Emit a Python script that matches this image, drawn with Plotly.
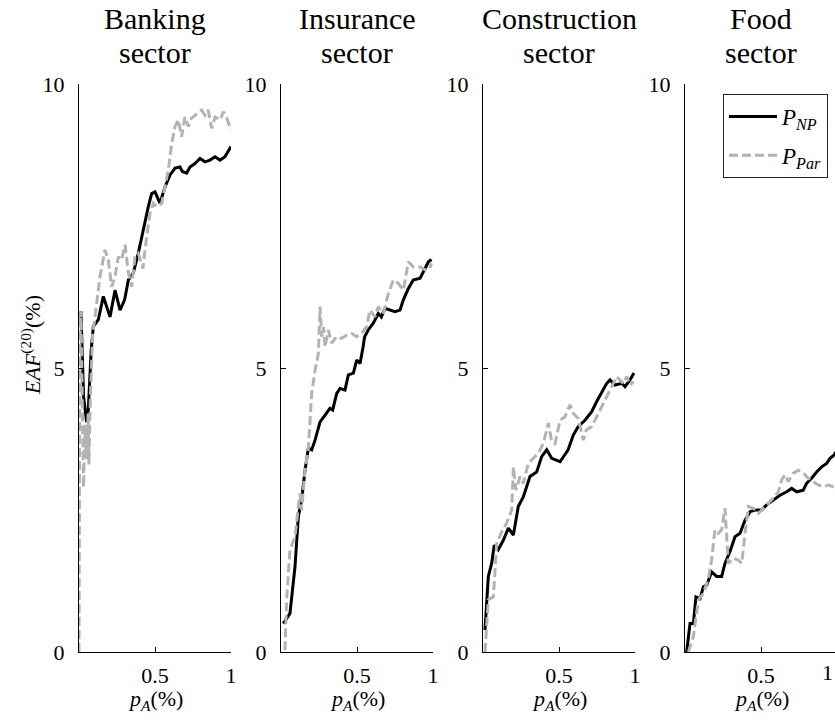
import plotly.graph_objects as go

W, H = 835, 724

sectors = ["Banking", "Insurance", "Construction", "Food"]

# ---- Banking sector ----
bank_np_x = [0.013, 0.02, 0.03, 0.05, 0.06, 0.08, 0.094, 0.127, 0.16, 0.204, 0.237, 0.27, 0.30, 0.325, 0.357,
             0.39, 0.412, 0.434, 0.456, 0.478, 0.50, 0.533, 0.566, 0.599, 0.632, 0.664, 0.68, 0.708, 0.73,
             0.763, 0.796, 0.829, 0.862, 0.895, 0.928, 0.96, 0.993, 1.0]
bank_np_y = [6.0, 5.2, 4.5, 4.05, 4.2, 5.3, 5.73, 5.85, 6.26, 5.90, 6.37, 6.02, 6.2, 6.55, 6.67,
             7.02, 7.31, 7.55, 7.84, 8.07, 8.10, 7.90, 8.19, 8.40, 8.52, 8.54, 8.46, 8.43, 8.54,
             8.60, 8.69, 8.63, 8.66, 8.72, 8.66, 8.72, 8.87, 8.90]
bank_par_x = [0.0, 0.003, 0.006, 0.013, 0.02, 0.03, 0.04, 0.05, 0.06, 0.065, 0.075, 0.09, 0.1, 0.138, 0.171,
              0.193, 0.215, 0.237, 0.259, 0.28, 0.303, 0.325, 0.347, 0.368, 0.39, 0.412, 0.42, 0.445,
              0.467, 0.489, 0.51, 0.544, 0.566, 0.588, 0.61, 0.632, 0.653, 0.675, 0.697, 0.72, 0.74,
              0.774, 0.807, 0.829, 0.85, 0.873, 0.895, 0.928, 0.95, 0.97, 1.0]
bank_par_y = [0.0, 3.0, 5.5, 6.0, 4.8, 2.9, 4.0, 3.4, 4.2, 3.3, 4.5, 5.6, 5.79, 6.61, 7.08,
              6.90, 6.43, 6.61, 6.96, 6.90, 7.17, 6.67, 6.43, 6.96, 7.02, 6.84, 6.75, 7.31,
              7.72, 7.90, 7.84, 7.90, 8.19, 8.49, 8.96, 9.25, 9.37, 9.07, 9.42, 9.25, 9.40,
              9.48, 9.54, 9.45, 9.54, 9.22, 9.42, 9.37, 9.51, 9.42, 9.19]

# ---- Insurance sector ----
ins_np_x = [0.015, 0.059, 0.092, 0.114, 0.136, 0.158, 0.18, 0.202, 0.224, 0.257, 0.29, 0.322, 0.34, 0.366,
            0.388, 0.421, 0.443, 0.476, 0.498, 0.52, 0.54, 0.55, 0.574, 0.607, 0.64, 0.66, 0.684, 0.717,
            0.75, 0.783, 0.805, 0.838, 0.87, 0.915, 0.947, 0.97, 0.99]
ins_np_y = [0.50, 0.68, 1.50, 2.38, 2.68, 3.20, 3.59, 3.56, 3.73, 4.05, 4.17, 4.29, 4.26, 4.55,
            4.64, 4.61, 4.88, 4.91, 5.14, 5.08, 5.37, 5.55, 5.67, 5.79, 5.96, 5.90, 6.05, 6.02,
            5.99, 6.02, 6.20, 6.40, 6.55, 6.58, 6.75, 6.87, 6.91]
ins_par_x = [0.026, 0.037, 0.059, 0.092, 0.114, 0.125, 0.136, 0.158, 0.18, 0.202, 0.224, 0.246, 0.257, 0.268,
             0.28, 0.29, 0.311, 0.333, 0.366, 0.399, 0.432, 0.465, 0.497, 0.53, 0.564, 0.585, 0.618, 0.64,
             0.673, 0.706, 0.739, 0.772, 0.805, 0.838, 0.87, 0.915, 0.947, 0.975, 0.99]
ins_par_y = [0.03, 0.92, 1.80, 2.03, 2.56, 2.79, 2.50, 3.20, 3.60, 4.55, 4.96, 5.26, 6.08, 5.55,
             5.72, 5.37, 5.67, 5.44, 5.55, 5.52, 5.58, 5.61, 5.55, 5.61, 5.73, 6.02, 5.90, 6.08,
             5.96, 6.31, 6.55, 6.49, 6.37, 6.87, 6.78, 6.78, 6.73, 6.74, 6.84]

# ---- Construction sector ----
con_np_x = [0.013, 0.035, 0.057, 0.074, 0.1, 0.134, 0.167, 0.2, 0.232, 0.265, 0.287, 0.309, 0.353, 0.386,
            0.419, 0.452, 0.507, 0.539, 0.56, 0.594, 0.627, 0.671, 0.715, 0.748, 0.781, 0.814, 0.836,
            0.868, 0.913, 0.934, 0.967, 0.993]
con_np_y = [0.39, 1.33, 1.56, 1.88, 1.80, 1.97, 2.18, 2.06, 2.56, 2.73, 2.91, 3.09, 3.17, 3.44,
            3.56, 3.41, 3.35, 3.47, 3.56, 3.82, 3.97, 4.08, 4.23, 4.41, 4.58, 4.73, 4.79,
            4.70, 4.73, 4.67, 4.79, 4.91]
con_par_x = [0.013, 0.035, 0.068, 0.09, 0.123, 0.156, 0.189, 0.2, 0.217, 0.243, 0.265, 0.298, 0.331, 0.364,
             0.397, 0.43, 0.452, 0.474, 0.507, 0.539, 0.572, 0.594, 0.627, 0.66, 0.68, 0.715, 0.748,
             0.781, 0.814, 0.847, 0.88, 0.9, 0.924, 0.945, 0.967, 0.99]
con_par_y = [0.0, 0.92, 0.97, 1.91, 2.12, 2.27, 2.50, 3.26, 2.85, 3.09, 2.97, 3.32, 3.41, 3.50,
             3.67, 4.03, 3.70, 3.67, 4.08, 4.14, 4.35, 4.20, 4.11, 3.73, 3.91, 3.97, 4.14,
             4.32, 4.49, 4.67, 4.85, 4.79, 4.73, 4.85, 4.70, 4.76]

# ---- Food sector ----
food_np_x = [0.011, 0.033, 0.055, 0.072, 0.099, 0.121, 0.143, 0.175, 0.208, 0.241, 0.263, 0.296, 0.329,
             0.362, 0.395, 0.428, 0.461, 0.505, 0.537, 0.581, 0.625, 0.669, 0.702, 0.735, 0.778, 0.8,
             0.833, 0.866, 0.899, 0.932, 0.954, 0.982, 1.0]
food_np_y = [0.0, 0.50, 0.50, 0.97, 0.94, 1.15, 1.18, 1.41, 1.33, 1.33, 1.56, 1.77, 2.03,
             2.09, 2.32, 2.47, 2.50, 2.50, 2.59, 2.68, 2.76, 2.82, 2.88, 2.82, 2.85, 2.97,
             3.06, 3.17, 3.26, 3.32, 3.41, 3.47, 3.55]
food_par_x = [0.022, 0.055, 0.088, 0.121, 0.154, 0.175, 0.197, 0.219, 0.241, 0.263, 0.285, 0.318, 0.351,
              0.373, 0.395, 0.417, 0.45, 0.483, 0.515, 0.548, 0.581, 0.614, 0.636, 0.658, 0.68, 0.713,
              0.746, 0.778, 0.811, 0.844, 0.877, 0.91, 0.943, 0.976, 1.0]
food_par_y = [0.0, 0.27, 0.92, 1.03, 1.30, 1.62, 2.15, 2.09, 2.15, 2.53, 1.56, 1.65, 1.62,
              1.56, 2.09, 2.56, 2.53, 2.44, 2.53, 2.62, 2.71, 2.82, 3.03, 3.12, 3.00, 3.15,
              3.20, 3.15, 3.06, 3.00, 2.94, 2.91, 2.94, 2.91, 2.90]

np_x = [bank_np_x, ins_np_x, con_np_x, food_np_x]
np_y = [bank_np_y, ins_np_y, con_np_y, food_np_y]
par_x = [bank_par_x, ins_par_x, con_par_x, food_par_x]
par_y = [bank_par_y, ins_par_y, con_par_y, food_par_y]

y_ticks = [0, 5, 10]
x_ticks = [0.5, 1]
x_tick_text = ["0.5", "1"]

FONT = "Liberation Serif"
BLACK = "#000000"
GRAY = "#b3b3b3"

# pixel geometry of the axes
left_px = [79, 281, 483, 685]
width_px = 152
top_px, bottom_px = 84, 652

fig = go.Figure()

for i in range(4):
    sfx = "" if i == 0 else str(i + 1)
    fig.add_trace(go.Scatter(x=np_x[i], y=np_y[i], mode="lines",
                             line=dict(color=BLACK, width=3),
                             name="<i>P</i><sub><i>NP</i></sub>",
                             legendgroup="np", showlegend=(i == 0),
                             xaxis="x" + sfx, yaxis="y" + sfx))
    fig.add_trace(go.Scatter(x=par_x[i], y=par_y[i], mode="lines",
                             line=dict(color=GRAY, width=3, dash="9px,4px"),
                             name="<i>P</i><sub><i>Par</i></sub>",
                             legendgroup="par", showlegend=(i == 0),
                             xaxis="x" + sfx, yaxis="y" + sfx))

layout = dict(
    template="none",
    width=W, height=H,
    margin=dict(l=0, r=0, t=0, b=0, autoexpand=False),
    paper_bgcolor="white", plot_bgcolor="white",
    font=dict(family=FONT, size=21, color="black"),
    showlegend=True,
    legend=dict(x=723 / W, y=1 - 94 / H, xanchor="left", yanchor="top",
                bordercolor="#222222", borderwidth=1, bgcolor="white",
                itemwidth=48,
                font=dict(family=FONT, size=23), tracegroupgap=6),
)

annotations = []
for i in range(4):
    sfx = "" if i == 0 else str(i + 1)
    x0 = left_px[i] / W
    x1 = min((left_px[i] + width_px) / W, 1.0)
    xr_end = (W - left_px[i]) / width_px if left_px[i] + width_px > W else 1.0
    layout["xaxis" + sfx] = dict(
        domain=[x0, x1], range=[0, xr_end], anchor="y" + sfx, automargin=False,
        showline=True, linecolor="black", linewidth=1,
        ticks="inside", ticklen=5, tickcolor="black", tickwidth=1,
        tickvals=x_ticks, ticktext=x_tick_text, showgrid=False, zeroline=False,
        tickfont=dict(family=FONT, size=22), ticklabelstandoff=4,
    )
    layout["yaxis" + sfx] = dict(
        domain=[1 - bottom_px / H, 1 - top_px / H], range=[0, 10], anchor="x" + sfx,
        automargin=False,
        showline=True, linecolor="black", linewidth=1,
        ticks="inside", ticklen=5, tickcolor="black", tickwidth=1,
        tickvals=y_ticks, showgrid=False, zeroline=False,
        tickfont=dict(family=FONT, size=22), ticklabelstandoff=9,
    )
    cx = (left_px[i] + width_px / 2) / W
    annotations.append(dict(text=sectors[i], x=cx, y=1 - 19 / H, xref="paper", yref="paper",
                            showarrow=False, xanchor="center", yanchor="middle",
                            font=dict(family=FONT, size=30)))
    annotations.append(dict(text="sector", x=cx, y=1 - 52 / H, xref="paper", yref="paper",
                            showarrow=False, xanchor="center", yanchor="middle",
                            font=dict(family=FONT, size=30)))
    annotations.append(dict(text="<i>p</i><sub><i>A</i></sub>(%)", x=cx, y=1 - 700 / H,
                            xref="paper", yref="paper", showarrow=False,
                            xanchor="center", yanchor="middle",
                            font=dict(family=FONT, size=22)))

# tick label "1" of the last panel sits at the page edge
annotations.append(dict(text="1", x=1.0, y=1 - 672 / H,
                        xref="paper", yref="paper", showarrow=False,
                        xanchor="right", yanchor="middle",
                        font=dict(family=FONT, size=22)))

annotations.append(dict(text="<i>EAF</i><sup>(20)</sup>(%)", x=31 / W, y=1 - 345 / H,
                        xref="paper", yref="paper", showarrow=False, textangle=-90,
                        xanchor="center", yanchor="middle",
                        font=dict(family=FONT, size=22)))

layout["annotations"] = annotations
fig.update_layout(**layout)

fig.write_html("out.html")
